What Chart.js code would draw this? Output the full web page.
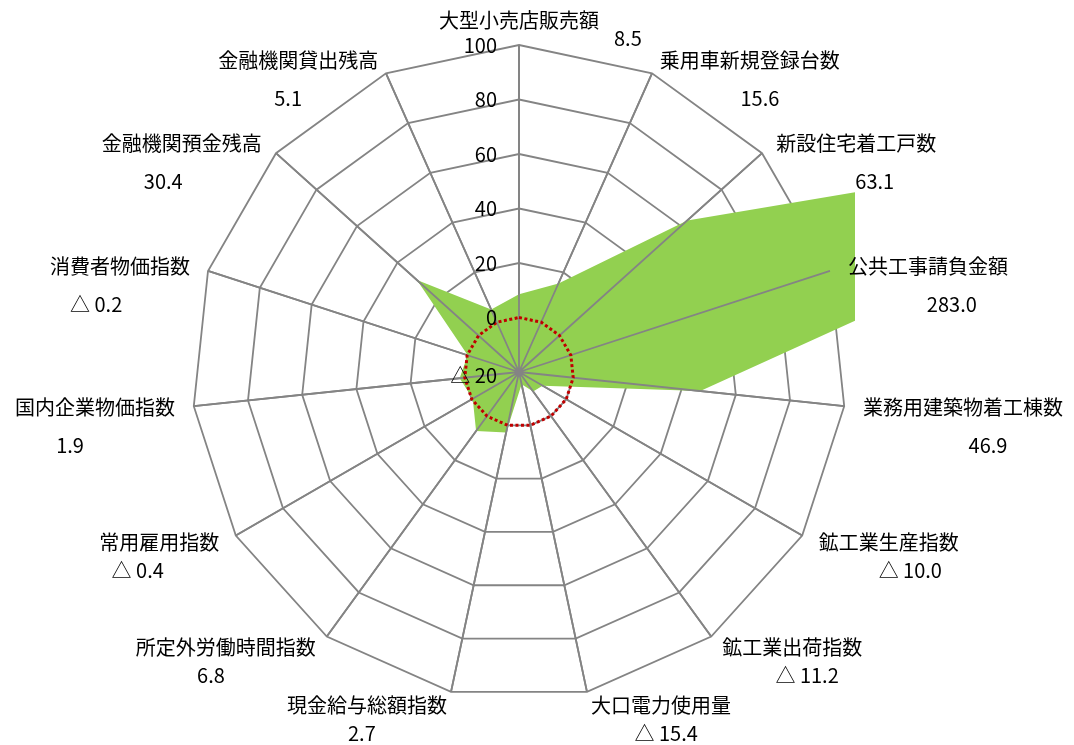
<!DOCTYPE html>
<html lang="ja">
<head>
    <meta charset="UTF-8">
    <meta name="viewport" content="width=device-width, initial-scale=1.0">
    <title>主要経済指標 前年同月比</title>
    <script src="https://cdn.jsdelivr.net/npm/chart.js"></script>
    <style>
        html, body { margin: 0; padding: 0; background: #fff; }
        #wrap { width: 1074px; height: 745px; position: relative; }
    </style>
</head>
<body>
    <div id="wrap"><canvas id="radarChart"></canvas></div>

    <script>
        // categories clockwise from the top
        const categories = [
            '大型小売店販売額', '乗用車新規登録台数', '新設住宅着工戸数', '公共工事請負金額',
            '業務用建築物着工棟数', '鉱工業生産指数', '鉱工業出荷指数', '大口電力使用量',
            '現金給与総額指数', '所定外労働時間指数', '常用雇用指数', '国内企業物価指数',
            '消費者物価指数', '金融機関預金残高', '金融機関貸出残高'
        ];
        // year-on-year change (%)
        const changeRates = [8.5, 15.6, 63.1, 283.0, 46.9, -10.0, -11.2, -15.4, 2.7, 6.8, -0.4, 1.9, -0.2, 30.4, 5.1];
        // reference line at 0
        const zeroLine = [0, 0, 0, 0, 0, 0, 0, 0, 0, 0, 0, 0, 0, 0, 0];
        const tickValues = [-20, 0, 20, 40, 60, 80, 100];

        const FONT = '20px "Noto Sans CJK JP", "Noto Sans", sans-serif';
        const GRID = '#848484';
        const GRID_W = 1.8;

        // negative numbers are written with a triangle
        function fmt(v, digits) {
            const s = Math.abs(v).toFixed(digits);
            return v < 0 ? '△ ' + s : s;
        }

        // category axis lines are drawn over the filled area
        const spokesOnTop = {
            id: 'spokesOnTop',
            afterDatasetDraw(chart, args) {
                if (args.index !== 0) return;
                const r = chart.scales.r;
                const ctx = chart.ctx;
                ctx.save();
                ctx.strokeStyle = GRID;
                ctx.lineWidth = GRID_W;
                ctx.beginPath();
                for (let i = 0; i < categories.length; i++) {
                    const p = r.getPointPosition(i, r.drawingArea);
                    ctx.moveTo(r.xCenter, r.yCenter);
                    ctx.lineTo(p.x, p.y);
                }
                ctx.stroke();
                ctx.restore();
            }
        };

        // names + values around the web, and the tick numbers left of the vertical axis
        const labelsPlugin = {
            id: 'labelsPlugin',
            afterDraw(chart) {
                const r = chart.scales.r;
                const ctx = chart.ctx;
                ctx.save();
                ctx.font = FONT;
                ctx.fillStyle = '#000';
                ctx.textBaseline = 'middle';

                tickValues.forEach(v => {
                    const d = r.getDistanceFromCenterForValue(v);
                    ctx.textAlign = 'right';
                    ctx.fillText(fmt(v, 0), r.xCenter - 22, r.yCenter - d + (v < 0 ? 3 : 0));
                });

                categories.forEach((name, i) => {
                    const a = r.getIndexAngle(i);
                    const s = Math.sin(a), c = Math.cos(a);
                    // horizontal gap a bit wider than the vertical one
                    const px = r.getPointPosition(i, r.drawingArea + 19).x;
                    let y = r.getPointPosition(i, r.drawingArea + 14).y;
                    const w = ctx.measureText(name).width;
                    let align = 'center', cx = px;
                    if (s > 0.05) { align = 'left'; cx = px + w / 2; }
                    else if (s < -0.05) { align = 'right'; cx = px - w / 2; }
                    const top = align === 'center' && c > 0;
                    if (top) y -= 11;
                    ctx.textAlign = align;
                    ctx.fillText(name, px, y);

                    const val = fmt(changeRates[i], 1);
                    if (top) {
                        ctx.textAlign = 'left';
                        ctx.fillText(val, cx + w / 2 + 15, y + 18);
                    } else {
                        ctx.textAlign = 'center';
                        ctx.fillText(val, cx + 25 * s, y + (c < -0.3 ? 28 : 38));
                    }
                });
                ctx.restore();
            }
        };

        const ctx = document.getElementById('radarChart').getContext('2d');
        new Chart(ctx, {
            type: 'radar',
            data: {
                labels: categories,
                datasets: [{
                    label: '前年同月比',
                    data: changeRates,
                    backgroundColor: '#92D050',
                    borderWidth: 0,
                    pointRadius: 0,
                    fill: 'start',
                    order: 2
                }, {
                    label: '0',
                    data: zeroLine,
                    borderColor: '#C00000',
                    borderWidth: 3,
                    borderDash: [3, 2.5],
                    borderCapStyle: 'butt',
                    pointRadius: 0,
                    fill: false,
                    order: 1
                }]
            },
            options: {
                responsive: true,
                maintainAspectRatio: false,
                animation: false,
                layout: {
                    padding: { left: 183, right: 219, top: 45, bottom: 46 }
                },
                plugins: {
                    legend: { display: false },
                    tooltip: { enabled: false }
                },
                scales: {
                    r: {
                        min: tickValues[0],
                        max: tickValues[tickValues.length - 1],
                        ticks: { stepSize: 20, display: false },
                        grid: { color: GRID, lineWidth: GRID_W, circular: false },
                        angleLines: { color: GRID, lineWidth: GRID_W },
                        pointLabels: { display: false }
                    }
                }
            },
            plugins: [spokesOnTop, labelsPlugin]
        });
    </script>
</body>
</html>
